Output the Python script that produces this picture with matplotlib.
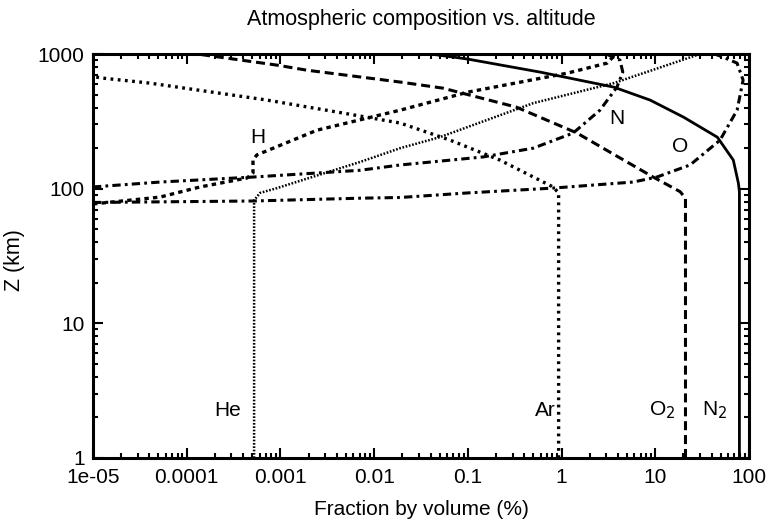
import matplotlib
matplotlib.use("Agg")
import matplotlib.pyplot as plt
from matplotlib.ticker import LogLocator, NullFormatter

plt.rcParams['font.family'] = ['Liberation Sans', 'DejaVu Sans']
plt.rcParams['lines.scale_dashes'] = False

# ---- data (fraction by volume in %, altitude in km) ----
n2_frac = [79, 79, 77, 68, 46, 20, 8.8, 3.6, 0.59, 0.1, 0.04]
n2_alt = [1, 95, 110, 163, 241, 340, 455, 568, 734, 917, 1000]

o2_frac = [21, 21, 18.4, 9.5, 3.7, 1.46, 0.33, 0.054, 0.019, 1.9e-3, 9.2e-4, 1.3e-4]
o2_alt = [1, 85, 95, 122, 178, 259, 403, 558, 619, 759, 827, 1000]

ar_frac = [0.93, 0.93, 0.81, 0.22, 0.065, 0.019, 0.0047, 7.2e-4, 4.05e-5, 1.28e-5, 1e-5]
ar_alt = [1, 93, 103, 163, 229, 307, 364, 455, 608, 662, 680]

he_frac = [5.24e-4, 5.24e-4, 6.06e-4, 9.2e-4, 0.0071, 0.019, 0.05, 0.5, 3.6, 30]
he_alt = [1, 82, 93, 101, 158, 200, 241, 432, 608, 1000]

h_frac = [1e-5, 5.2e-5, 1.39e-4, 4.4e-4, 5.1e-4, 5.1e-4, 5.6e-4, 2.46e-3, 0.019, 0.1, 1.15, 3.06, 3.8]
h_alt = [77, 86.6, 103, 120, 131, 163, 178, 272, 383, 521, 721, 856, 1000]

n_frac = [1e-5, 5.2e-5, 5.1e-4, 0.0071, 0.019, 0.145, 0.5, 1.33, 2.57, 3.9, 4.5, 4.2, 3.0]
n_alt = [103, 112, 122, 137, 150, 172, 200, 259, 383, 568, 734, 901, 1000]

o_frac = [1e-5, 5.1e-4, 0.0071, 0.019, 0.1, 0.81, 5.8, 10.4, 23.5, 49, 74.6, 86.5, 74.6, 53, 43]
o_alt = [79, 81, 85, 86, 93, 101, 112, 122, 150, 229, 383, 640, 856, 948, 1000]

x_ticks = [1e-5, 1e-4, 1e-3, 1e-2, 1e-1, 1, 10, 100]
x_tick_labels = ['1e-05', '0.0001', '0.001', '0.01', '0.1', '1', '10', '100']
y_ticks = [1, 10, 100, 1000]
y_tick_labels = ['1', '10', '100', '1000']

labels = ['H', 'N', 'O', 'He', 'Ar', 'O$_2$', 'N$_2$']
label_x = [5.77e-4, 3.9, 18.4, 2.76e-4, 0.667, 11.8, 43]
label_y = [238, 334, 204, 2.27, 2.27, 2.27, 2.27]

fig = plt.figure(figsize=(7.69, 5.26), dpi=100)
ax = fig.add_axes([0.1209, 0.1293, 0.8531, 0.768])

k = 'black'
ax.plot(n2_frac, n2_alt, color=k, lw=2.0, solid_joinstyle='round')
ax.plot(o2_frac, o2_alt, color=k, lw=2.2, dashes=(6.5, 3.5))
ax.plot(ar_frac, ar_alt, color=k, lw=2.4, dashes=(2.0, 3.2))
ax.plot(he_frac, he_alt, color=k, lw=1.8, dashes=(1.2, 1.2))
ax.plot(h_frac, h_alt, color=k, lw=2.4, dashes=(3.2, 3.0))
ax.plot(n_frac, n_alt, color=k, lw=2.2, dashes=(6.0, 3.0, 2.0, 3.0))
ax.plot(o_frac, o_alt, color=k, lw=2.2, dashes=(6.0, 3.0, 2.0, 3.0))

for t, xx, yy in zip(labels, label_x, label_y):
    ax.text(xx, yy, t, fontsize=15, ha='center', va='center')

ax.set_xscale('log')
ax.set_yscale('log')
ax.set_xlim(1e-5, 100)
ax.set_ylim(1, 1000)
ax.set_xticks(x_ticks)
ax.set_xticklabels(x_tick_labels)
ax.set_yticks(y_ticks)
ax.set_yticklabels(y_tick_labels)
ax.xaxis.set_minor_locator(LogLocator(base=10, subs=range(2, 10), numticks=50))
ax.yaxis.set_minor_locator(LogLocator(base=10, subs=range(2, 10), numticks=50))
ax.xaxis.set_minor_formatter(NullFormatter())
ax.yaxis.set_minor_formatter(NullFormatter())

ax.tick_params(which='both', direction='in', top=True, right=True, labelsize=15, width=1.5)
ax.tick_params(which='major', length=7)
ax.tick_params(which='minor', length=3.5)
ax.tick_params(axis='x', which='major', pad=7)
ax.tick_params(axis='y', which='major', pad=6)
for s in ax.spines.values():
    s.set_linewidth(2.2)

ax.set_xlabel('Fraction by volume (%)', fontsize=15)
ax.set_ylabel('Z (km)', fontsize=15.5)
ax.xaxis.set_label_coords(0.5, -0.105)
ax.yaxis.set_label_coords(-0.104, 0.49)
fig.text(0.5475, 1 - 19 / 526, 'Atmospheric composition vs. altitude', fontsize=15.5,
         ha='center', va='center')

fig.savefig('out.png', dpi=100)
